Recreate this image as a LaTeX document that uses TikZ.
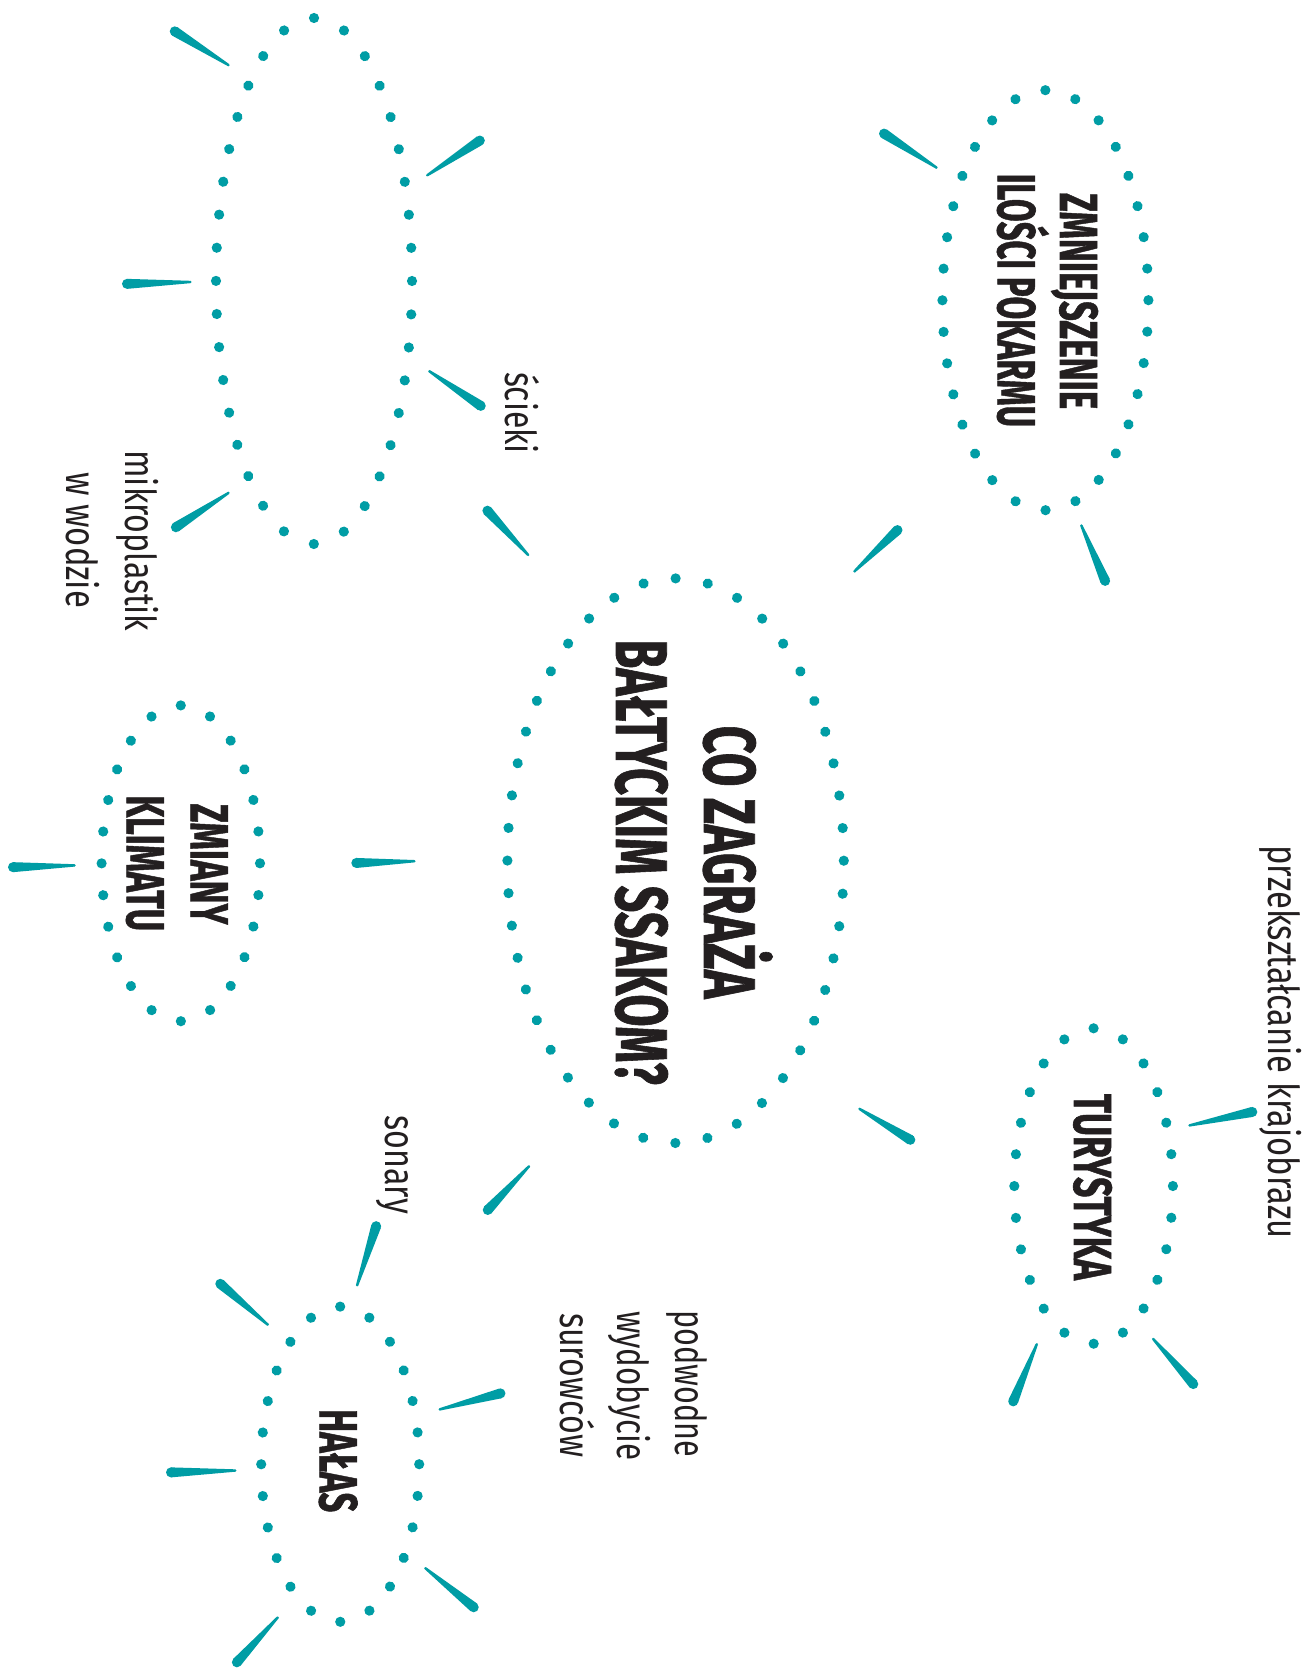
\documentclass[tikz,border=0pt]{standalone}
\usepackage{fontspec}
\usepackage{graphicx}
\usetikzlibrary{calc,decorations.markings}
\newfontfamily\headfont{Fira Sans}[FakeBold=1.2]
\newfontfamily\lblfont{Fira Sans}
\definecolor{teal0}{RGB}{0,157,165}
\definecolor{ink}{RGB}{35,31,32}
\newcommand\fitw[2]{\resizebox{#1}{\height}{#2}}
\newcommand\spk[3]{%
  \coordinate (#1o) at ($(#2)!2.5pt!(#3)$);
  \coordinate (#1i) at (#3);
  \fill[teal0] ($(#1o)!2.5pt!90:(#1i)$) -- ($(#1i)!0.6pt!-90:(#1o)$) -- ($(#1i)!0.6pt!90:(#1o)$) -- ($(#1o)!2.5pt!-90:(#1i)$) -- cycle;
  \fill[teal0] (#1o) circle (2.5pt) (#1i) circle (0.6pt);
}
\tikzset{
  dotring/.style={decoration={markings, mark=between positions 0 and 0.995 step #1 with {\fill[teal0] (0,0) circle (2.55pt);}}, decorate},
  bighead/.style={rotate=-90, inner sep=0pt, anchor=base west, text=ink, font=\headfont\bfseries\fontsize{36.6pt}{40pt}\selectfont},
  head/.style={rotate=-90, inner sep=0pt, anchor=base west, text=ink, font=\headfont\bfseries\fontsize{26.8pt}{30pt}\selectfont},
  lbl/.style={rotate=-90, inner sep=0pt, anchor=base west, text=ink, font=\lblfont\fontsize{21.3pt}{26pt}\selectfont}
}
\begin{document}
\begin{tikzpicture}[x=0.5pt, y=-0.5pt]
\fill[white] (0,0) rectangle (1314,1668);
\useasboundingbox (0,0) rectangle (1314,1668);

% ellipse centres
\coordinate (e1) at (314,281);
\coordinate (e2) at (1045.4,300.2);
\coordinate (em) at (675.6,860.7);
\coordinate (ez) at (180.8,863.3);
\coordinate (eh) at (340.2,1464.2);
\coordinate (et) at (1093.6,1186);

\path[dotring=0.0277778] (e1) ellipse [x radius=49pt, y radius=131.5pt];
\path[dotring=0.03125] (e2) ellipse [x radius=51.5pt, y radius=105pt];
\path[dotring=0.0227273] (em) ellipse [x radius=84.1pt, y radius=141.15pt];
\path[dotring=0.0416667] (ez) ellipse [x radius=39.6pt, y radius=78.95pt];
\path[dotring=0.0416667] (eh) ellipse [x radius=39.5pt, y radius=78.8pt];
\path[dotring=0.0416667] (et) ellipse [x radius=39.65pt, y radius=78.85pt];

% spokes (thick end, thin end)
\spk{s1}{170.5,28.7}{228.5,65.1}
\spk{s2}{484,137.8}{427.2,175.3}
\spk{s3}{122,284}{190.3,282}
\spk{s4}{484.9,408.7}{429.3,371.2}
\spk{s5}{171.7,530}{228.5,492.9}
\spk{s6}{484,507}{528.2,555}
\spk{s7}{879.8,130.9}{936.5,167.6}
\spk{s8}{901.1,526.6}{854.4,571.4}
\spk{s9}{1107.1,585.5}{1081.3,525.4}
\spk{s10}{351.3,863.1}{414.4,861.2}
\spk{s11}{8,867.3}{74.6,865.4}
\spk{s12}{914.6,1142.4}{859.4,1108.8}
\spk{s13}{484.3,1213.6}{529,1166.3}
\spk{s14}{377.7,1221.4}{357.1,1285.3}
\spk{s15}{216.5,1280.5}{267.8,1324.7}
\spk{s16}{505.3,1392.1}{439.7,1409.4}
\spk{s17}{166,1472.5}{235.3,1470.5}
\spk{s18}{477.6,1610.4}{425.4,1568.2}
\spk{s19}{233.5,1666}{277.7,1617.5}
\spk{s20}{1257.2,1110.9}{1189.5,1125.4}
\spk{s21}{1011.3,1406}{1036.8,1344.2}
\spk{s22}{1196.6,1387.8}{1153.1,1338.9}

% headings
\node[bighead] (t1) at (704,725.3) {\fitw{136.45pt}{CO ZAGRAŻA}};
\node[bighead] (t2) at (616,639.2) {\fitw{222.55pt}{BAŁTYCKIM SSAKOM?}};
\node[head] (z1) at (1060,192.5) {\fitw{108.1pt}{ZMNIEJSZENIE}};
\node[head] (z2) at (997.7,173.4) {\fitw{126.65pt}{ILOŚCI POKARMU}};
\node[head] (k1) at (190.7,803.3) {\fitw{60.35pt}{ZMIANY}};
\node[head] (k2) at (126.7,795) {\fitw{67.85pt}{KLIMATU}};
\node[head] (h1) at (319.6,1408.6) {\fitw{51.65pt}{HAŁAS}};
\node[head] (u1) at (1074,1093.5) {\fitw{93.05pt}{TURYSTYKA}};

% labels
\node[lbl] (l1) at (505,371.7) {\fitw{40.9pt}{ścieki}};
\node[lbl] (l2) at (125,450) {\fitw{90.5pt}{mikroplastik}};
\node[lbl] (l3) at (66.7,471.7) {\fitw{68pt}{w wodzie}};
\node[lbl] (l4) at (385,1115) {\fitw{49.25pt}{sonary}};
\node[lbl] (l5) at (1268.3,845) {\fitw{196.5pt}{przekształcanie krajobrazu}};
\node[lbl] (l6) at (675,1310) {\fitw{73.35pt}{podwodne}};
\node[lbl] (l7) at (617.3,1310.7) {\fitw{74.65pt}{wydobycie}};
\node[lbl] (l8) at (560,1312.7) {\fitw{72pt}{surowców}};
\end{tikzpicture}
\end{document}
